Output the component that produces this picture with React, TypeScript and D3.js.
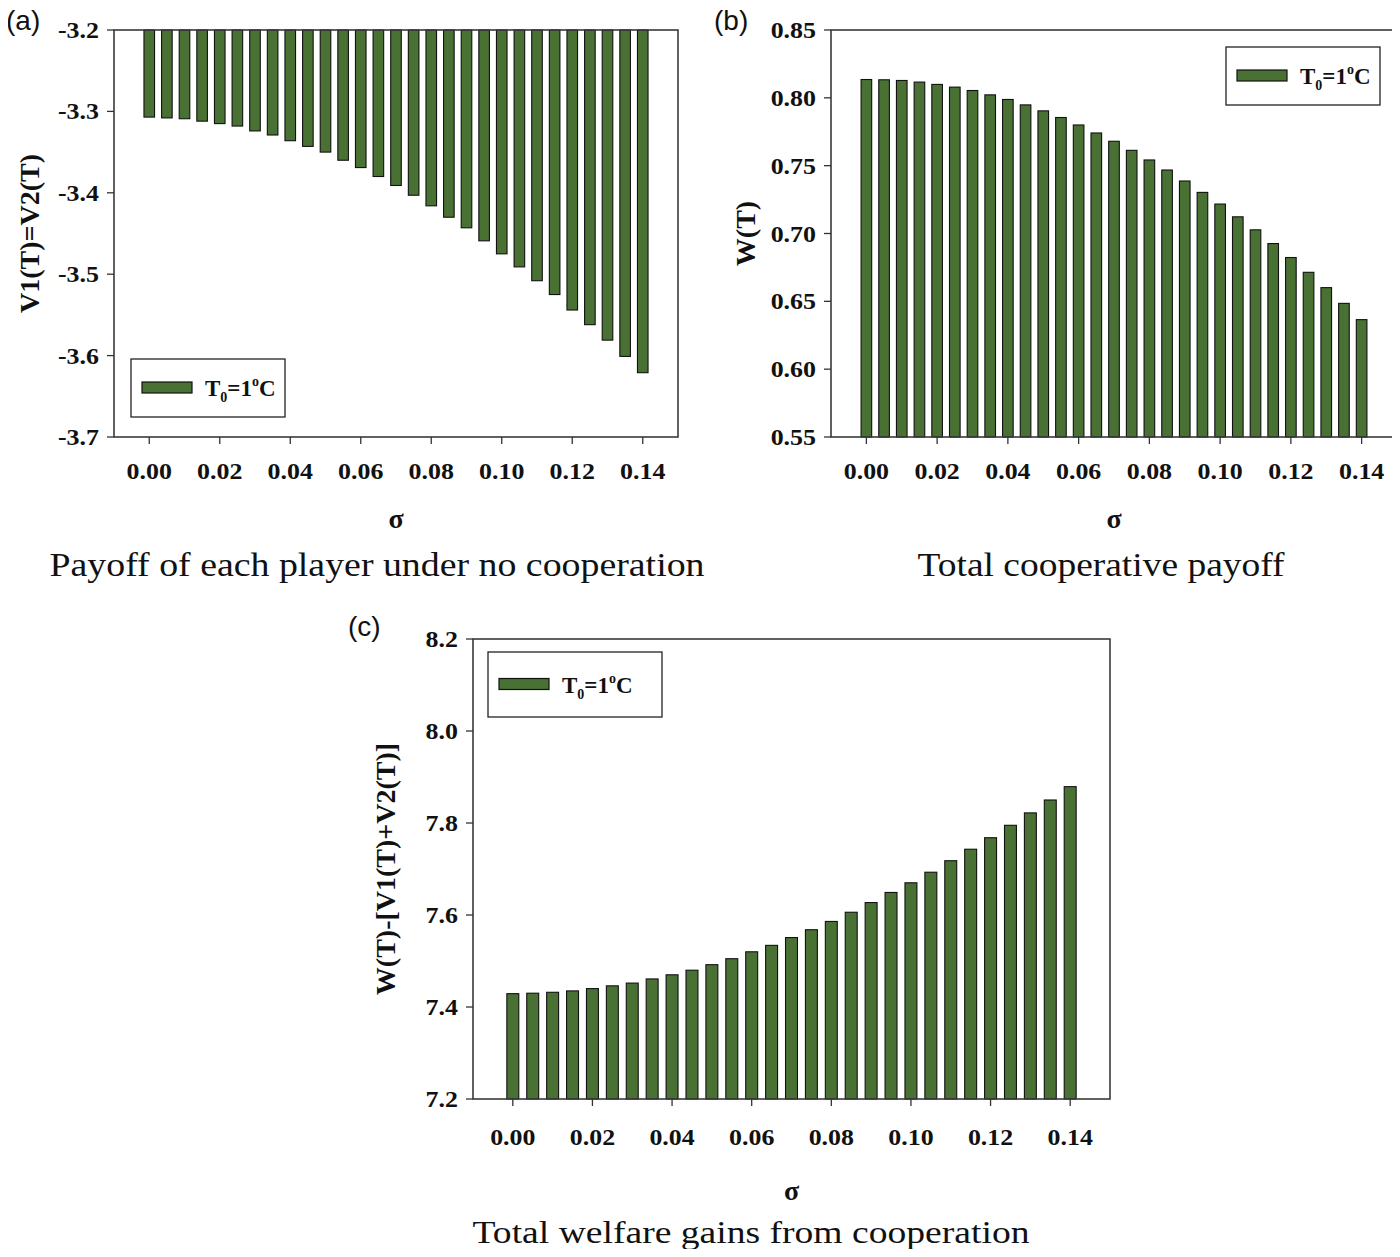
import React from "react";
import * as d3 from "d3";

// sigma values (categories)
const SIGMA = [
  0, 0.005, 0.01, 0.015, 0.02, 0.025, 0.03, 0.035, 0.04, 0.045, 0.05, 0.055, 0.06, 0.065, 0.07,
  0.075, 0.08, 0.085, 0.09, 0.095, 0.1, 0.105, 0.11, 0.115, 0.12, 0.125, 0.13, 0.135, 0.14,
];

// (a) payoff of each player under no cooperation
const V_NONCOOP = [
  -3.307, -3.308, -3.309, -3.312, -3.315, -3.318, -3.324, -3.329, -3.336, -3.343, -3.35, -3.36,
  -3.369, -3.38, -3.391, -3.403, -3.416, -3.43, -3.443, -3.459, -3.475, -3.491, -3.508, -3.525,
  -3.544, -3.562, -3.581, -3.601, -3.621,
];

// (b) total cooperative payoff
const W_COOP = [
  0.8135, 0.8133, 0.8128, 0.8116, 0.8099, 0.8079, 0.8054, 0.8022, 0.7988, 0.7948, 0.7904, 0.7855,
  0.78, 0.7741, 0.768, 0.7613, 0.7542, 0.7468, 0.7387, 0.7303, 0.7217, 0.7123, 0.7027, 0.6926,
  0.6823, 0.6714, 0.6601, 0.6485, 0.6365,
];

// (c) total welfare gains from cooperation
const GAINS = [
  7.429, 7.43, 7.432, 7.435, 7.44, 7.446, 7.452, 7.461, 7.47, 7.48, 7.492, 7.505, 7.52, 7.534,
  7.551, 7.568, 7.586, 7.606, 7.627, 7.649, 7.67, 7.693, 7.718, 7.743, 7.768, 7.795, 7.822, 7.85,
  7.879,
];

const X_TICKS = [0, 0.02, 0.04, 0.06, 0.08, 0.1, 0.12, 0.14];
const Y_TICKS_A = [-3.2, -3.3, -3.4, -3.5, -3.6, -3.7];
const Y_TICKS_B = [0.55, 0.6, 0.65, 0.7, 0.75, 0.8, 0.85];
const Y_TICKS_C = [7.2, 7.4, 7.6, 7.8, 8.0, 8.2];

const BAR_FILL = "#4a7134";
const SERIF = "Liberation Serif, Times New Roman, Tinos, Times, serif";
const SANS = "Liberation Sans, Arial, Helvetica, sans-serif";

const fmtHyphen = (spec: string) => (v: number) => d3.format(spec)(v).replace("\u2212", "-");

type PanelProps = {
  left: number;
  right: number;
  top: number;
  bottom: number;
  values: number[];
  yDomain: [number, number];
  yTicks: number[];
  yFmt: (v: number) => string;
  hangFromTop?: boolean;
  yTitle: string;
  yTitleX: number;
  legend: { x: number; y: number; w: number; h: number };
  xLabelDy: number;
  sigmaDy: number;
};

const boldSerif = { fontFamily: SERIF, fontWeight: 700 } as const;

function Legend({ x, y, w, h }: { x: number; y: number; w: number; h: number }) {
  return (
    <g>
      <rect x={x} y={y} width={w} height={h} fill="white" stroke="#222" strokeWidth={1.3} />
      <rect x={x + 11} y={y + h / 2 - 6} width={50} height={11} fill={BAR_FILL} stroke="#111" strokeWidth={1.2} />
      <text x={x + 74} y={y + h / 2 + 8} style={{ ...boldSerif, fontSize: 23 }} fill="#111">
        T<tspan style={{ fontSize: 14 }} dy={6}>0</tspan>
        <tspan dy={-6}>=1</tspan>
        <tspan style={{ fontSize: 14 }} dy={-10}>o</tspan>
        <tspan dy={10}>C</tspan>
      </text>
    </g>
  );
}

function Panel(p: PanelProps) {
  const x = d3.scaleLinear().domain([-0.01, 0.15]).range([p.left, p.right]);
  const y = d3.scaleLinear().domain(p.yDomain).range([p.bottom, p.top]);
  const step = x(SIGMA[1]) - x(SIGMA[0]);
  const bw = step * 0.6;
  const base = p.hangFromTop ? p.top : p.bottom;
  const cx = (p.left + p.right) / 2;
  const cy = (p.top + p.bottom) / 2;
  return (
    <g>
      {SIGMA.map((s, i) => {
        const yv = y(p.values[i]);
        const y0 = Math.min(yv, base);
        const hh = Math.abs(yv - base);
        return (
          <rect key={i} x={x(s) - bw / 2} y={y0} width={bw} height={hh} fill={BAR_FILL} stroke="#111" strokeWidth={1.1} />
        );
      })}
      <rect x={p.left} y={p.top} width={p.right - p.left} height={p.bottom - p.top} fill="none" stroke="#3a3a3a" strokeWidth={1.6} />
      {p.yTicks.map((t) => (
        <g key={"y" + t}>
          <line x1={p.left - 7} x2={p.left} y1={y(t)} y2={y(t)} stroke="#333" strokeWidth={1.3} />
          <text
            transform={`translate(${p.left - 15},${y(t) + 8}) scale(1.08,1)`}
            textAnchor="end"
            style={{ ...boldSerif, fontSize: 24 }}
            fill="#111"
          >
            {p.yFmt(t)}
          </text>
        </g>
      ))}
      {X_TICKS.map((t) => (
        <g key={"x" + t}>
          <line x1={x(t)} x2={x(t)} y1={p.bottom} y2={p.bottom + 7} stroke="#333" strokeWidth={1.3} />
          <text
            transform={`translate(${x(t)},${p.bottom + p.xLabelDy}) scale(1.08,1)`}
            textAnchor="middle"
            style={{ ...boldSerif, fontSize: 24 }}
            fill="#111"
          >
            {d3.format(".2f")(t)}
          </text>
        </g>
      ))}
      <text x={cx} y={p.bottom + p.sigmaDy} textAnchor="middle" style={{ ...boldSerif, fontSize: 28 }} fill="#111">
        σ
      </text>
      <text
        transform={`translate(${p.yTitleX},${cy}) rotate(-90)`}
        textAnchor="middle"
        dy="0.35em"
        style={{ ...boldSerif, fontSize: 28 }}
        fill="#111"
      >
        {p.yTitle}
      </text>
      <Legend {...p.legend} />
    </g>
  );
}

export default function App() {
  return (
    <svg width={1400} height={1257} style={{ display: "block", margin: -8, background: "white" }}>
      <rect width={1400} height={1257} fill="white" />
      <text x={6} y={30} style={{ fontFamily: SANS, fontSize: 28 }} fill="#111">(a)</text>
      <text x={714} y={30} style={{ fontFamily: SANS, fontSize: 28 }} fill="#111">(b)</text>
      <text x={348} y={636} style={{ fontFamily: SANS, fontSize: 28 }} fill="#111">(c)</text>

      <Panel
        left={114}
        right={678}
        top={30}
        bottom={437}
        values={V_NONCOOP}
        yDomain={[-3.7, -3.2]}
        yTicks={Y_TICKS_A}
        yFmt={fmtHyphen(".1f")}
        hangFromTop
        yTitle="V1(T)=V2(T)"
        yTitleX={29}
        legend={{ x: 131, y: 359, w: 154, h: 58 }}
        xLabelDy={42}
        sigmaDy={91}
      />
      <Panel
        left={831}
        right={1397}
        top={30}
        bottom={437}
        values={W_COOP}
        yDomain={[0.55, 0.85]}
        yTicks={Y_TICKS_B}
        yFmt={fmtHyphen(".2f")}
        yTitle="W(T)"
        yTitleX={745}
        legend={{ x: 1226, y: 47, w: 154, h: 58 }}
        xLabelDy={42}
        sigmaDy={91}
      />
      <Panel
        left={473}
        right={1110}
        top={639}
        bottom={1099}
        values={GAINS}
        yDomain={[7.2, 8.2]}
        yTicks={Y_TICKS_C}
        yFmt={fmtHyphen(".1f")}
        yTitle="W(T)-[V1(T)+V2(T)]"
        yTitleX={385}
        legend={{ x: 488, y: 652, w: 174, h: 65 }}
        xLabelDy={46}
        sigmaDy={101}
      />

      <text x={377} y={576} textAnchor="middle" style={{ fontFamily: SERIF, fontSize: 33 }} textLength={655} lengthAdjust="spacingAndGlyphs" fill="#111">
        Payoff of each player under no cooperation
      </text>
      <text x={1101} y={576} textAnchor="middle" style={{ fontFamily: SERIF, fontSize: 33 }} textLength={367} lengthAdjust="spacingAndGlyphs" fill="#111">
        Total cooperative payoff
      </text>
      <text x={751} y={1243} textAnchor="middle" style={{ fontFamily: SERIF, fontSize: 31 }} textLength={557} lengthAdjust="spacingAndGlyphs" fill="#111">
        Total welfare gains from cooperation
      </text>
    </svg>
  );
}
